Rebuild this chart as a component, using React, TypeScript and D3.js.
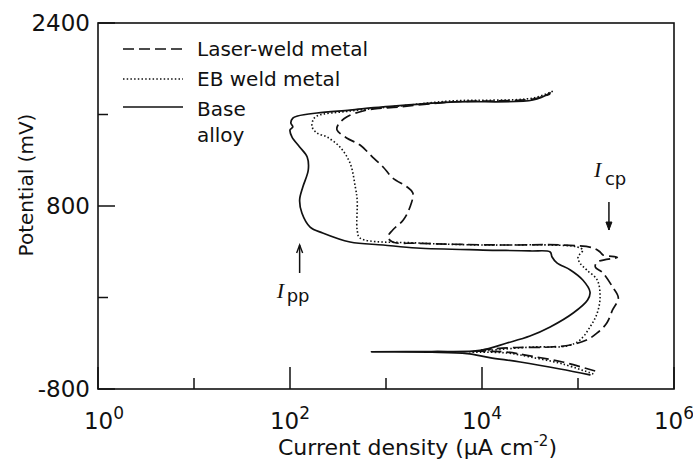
import React from "react";
import * as d3 from "d3";

// current density (uA cm^-2), potential (mV)
const baseCurrent = [133000, 65000, 25000, 12000, 7000, 3000, 708, 3000, 9550, 18200, 31600, 51300, 89100, 125900, 133400, 112200, 83200, 60300, 53700, 51300, 31600, 10230, 2089, 933, 422, 219, 162, 133, 126, 136, 155, 151, 126, 105, 100, 107, 102, 107, 120, 191, 422, 933, 4677, 33900, 51300];
const basePotential = [-677, -625, -564, -525, -490, -478, -476, -472, -462, -398, -337, -258, -136, -22, 48, 153, 241, 302, 354, 398, 407, 415, 433, 459, 485, 564, 616, 739, 852, 966, 1115, 1228, 1316, 1403, 1464, 1491, 1526, 1569, 1587, 1613, 1639, 1666, 1709, 1727, 1788];

const ebCurrent = [144500, 69200, 31600, 18200, 9550, 7500, 12000, 33900, 76700, 104700, 133400, 158500, 169800, 158500, 123000, 104700, 100000, 112200, 97700, 51300, 10230, 2089, 537, 501, 501, 479, 422, 331, 243, 191, 170, 174, 191, 422, 1380, 4677, 33900, 55000];
const ebPotential = [-669, -581, -520, -485, -478, -477, -462, -433, -424, -372, -258, -136, 4, 153, 241, 302, 354, 415, 442, 459, 459, 477, 520, 590, 852, 966, 1176, 1316, 1403, 1438, 1491, 1552, 1587, 1630, 1674, 1718, 1744, 1805];

const laserCurrent = [151000, 69200, 31600, 18200, 9550, 8500, 12000, 22900, 51300, 83200, 123000, 158500, 199500, 229000, 263000, 229000, 182000, 151400, 158500, 257000, 182000, 169800, 144500, 64600, 15000, 2089, 1175, 1047, 1175, 1514, 1778, 1905, 1660, 1175, 933, 724, 537, 389, 309, 316, 389, 631, 1380, 4677, 33900, 51300];
const laserPotential = [-643, -564, -511, -477, -470, -469, -452, -437, -433, -415, -372, -310, -223, -109, -4, 92, 214, 267, 310, 352, 372, 398, 433, 459, 459, 474, 485, 529, 590, 678, 791, 914, 966, 1045, 1141, 1228, 1333, 1395, 1464, 1508, 1578, 1639, 1666, 1709, 1735, 1780];

const xMajorExp = [0, 2, 4, 6];
const xMinorExp = [1, 3, 5];
const yMajor = [-800, 800, 2400];
const yMinor = [0, 1600];

const legendItems = [
  { label: ["Laser-weld metal"], dash: "11,5", width: 1.7 },
  { label: ["EB weld metal"], dash: "1.5,2.2", width: 1.6 },
  { label: ["Base", "alloy"], dash: "none", width: 1.7 },
];

const W = 693, H = 468;
const margin = { top: 23, right: 19, bottom: 79, left: 98 };

export default function App() {
  const x = d3.scaleLog().domain([1, 1e6]).range([margin.left, W - margin.right]);
  const y = d3.scaleLinear().domain([-800, 2400]).range([H - margin.bottom, margin.top]);

  const line = d3.line<[number, number]>()
    .x(d => x(d[0]))
    .y(d => y(d[1]))
    .curve(d3.curveCatmullRom.alpha(0.5));

  const zip = (c: number[], p: number[]) => c.map((v, i) => [v, p[i]] as [number, number]);

  const series = [
    { pts: zip(laserCurrent, laserPotential), ...legendItems[0] },
    { pts: zip(ebCurrent, ebPotential), ...legendItems[1] },
    { pts: zip(baseCurrent, basePotential), ...legendItems[2] },
  ];

  const x0 = margin.left, x1 = W - margin.right;
  const y0 = H - margin.bottom, y1 = margin.top;
  const font = "'DejaVu Sans', sans-serif";

  // annotation anchors
  const ppX = x(126), ppTop = y(459), ppBot = y(214);
  const cpX = x(210000), cpTop = y(835), cpBot = y(590);

  return (
    <svg width={W} height={H} style={{ position: "absolute", left: 0, top: 0, background: "#fff" }}
      fontFamily={font}>
      {series.map((s, i) => (
        <path key={i} d={line(s.pts) || ""} fill="none" stroke="#111" strokeWidth={s.width}
          strokeDasharray={s.dash} strokeLinecap={s.dash === "none" ? "round" : "butt"} />
      ))}

      {/* frame */}
      <rect x={x0} y={y1} width={x1 - x0} height={y0 - y1} fill="none" stroke="#111" strokeWidth={1.6} />

      {/* x ticks */}
      {xMajorExp.map(e => (
        <line key={"xM" + e} x1={x(10 ** e)} x2={x(10 ** e)} y1={y0} y2={y0 - 22} stroke="#111" strokeWidth={1.5} />
      ))}
      {xMinorExp.map(e => (
        <line key={"xm" + e} x1={x(10 ** e)} x2={x(10 ** e)} y1={y0} y2={y0 - 11} stroke="#111" strokeWidth={1.5} />
      ))}
      {xMajorExp.map(e => (
        <text key={"xl" + e} x={x(10 ** e) + (e === 0 ? 6 : 0)} y={429} textAnchor="middle" fontSize={23} fill="#111">
          10<tspan fontSize={17} dy={-10}>{e}</tspan>
        </text>
      ))}

      {/* y ticks */}
      {yMajor.map(v => (
        <line key={"yM" + v} x1={x0} x2={x0 + 17} y1={y(v)} y2={y(v)} stroke="#111" strokeWidth={1.5} />
      ))}
      {yMinor.map(v => (
        <line key={"ym" + v} x1={x0} x2={x0 + 10} y1={y(v)} y2={y(v)} stroke="#111" strokeWidth={1.5} />
      ))}
      {yMajor.map(v => (
        <text key={"yl" + v} x={90} y={y(v)} dy="0.36em" textAnchor="end" fontSize={23} fill="#111">{v}</text>
      ))}

      {/* axis titles */}
      <text x={278} y={455} fontSize={22} fill="#111">
        Current density (μA cm<tspan fontSize={15} dy={-9}>-2</tspan><tspan dy={9}>)</tspan>
      </text>
      <text transform={`translate(33,185) rotate(-90)`} textAnchor="middle" fontSize={20} fill="#111">Potential (mV)</text>

      {/* legend */}
      {legendItems.map((it, i) => {
        const ly = [49, 79, 107][i];
        return (
          <g key={"lg" + i}>
            <line x1={123} x2={183} y1={ly} y2={ly} stroke="#111" strokeWidth={it.width} strokeDasharray={it.dash} />
            {it.label.map((t, j) => (
              <text key={j} x={197} y={(i === 2 ? 109 : ly) + j * 26} dy="0.36em" fontSize={20} fill="#111">{t}</text>
            ))}
          </g>
        );
      })}

      {/* I_pp annotation */}
      <line x1={ppX} x2={ppX} y1={ppBot} y2={ppTop} stroke="#111" strokeWidth={1.5} />
      <path d={`M${ppX - 3},${ppTop + 8} L${ppX},${ppTop} L${ppX + 3},${ppTop + 8}`} fill="none" stroke="#111" strokeWidth={1.4} />
      <text x={ppX - 23} y={298} fontSize={22} fontStyle="italic" fontFamily="'Liberation Serif', serif" fill="#111">I</text>
      <text x={ppX - 13} y={302} fontSize={18} fill="#111">pp</text>

      {/* I_cp annotation */}
      <line x1={cpX} x2={cpX} y1={cpTop} y2={cpBot} stroke="#111" strokeWidth={1.5} />
      <path d={`M${cpX - 3},${cpBot - 8} L${cpX},${cpBot} L${cpX + 3},${cpBot - 8} Z`} fill="#111" stroke="#111" strokeWidth={1} />
      <text x={cpX - 15} y={177} fontSize={22} fontStyle="italic" fontFamily="'Liberation Serif', serif" fill="#111">I</text>
      <text x={cpX - 4} y={185} fontSize={18} fill="#111">cp</text>
    </svg>
  );
}
